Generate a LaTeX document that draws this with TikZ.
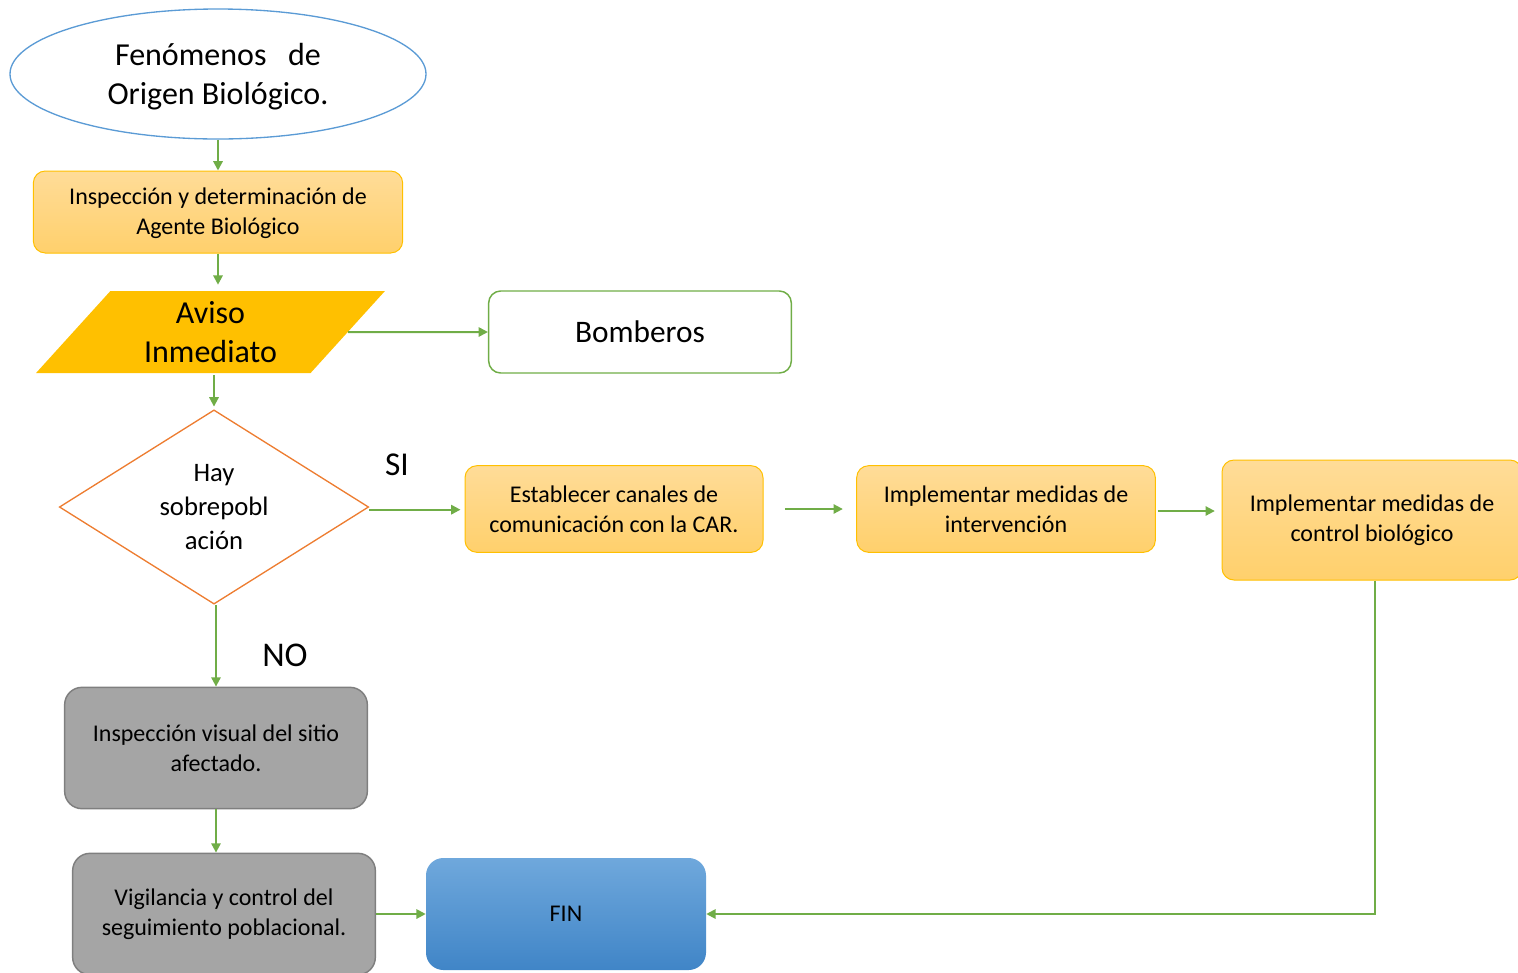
\documentclass[tikz,border=0pt]{standalone}
\usepackage{fontspec}
\setmainfont{Carlito}
\usetikzlibrary{shapes.geometric,arrows.meta}

\definecolor{verde}{HTML}{70AD47}
\definecolor{azul}{HTML}{5B9BD5}
\definecolor{naranja}{HTML}{FFC000}
\definecolor{naranjaA}{HTML}{FFDC98}
\definecolor{naranjaB}{HTML}{FFD06C}
\definecolor{gris}{HTML}{A5A5A5}
\definecolor{grisB}{HTML}{7F7F7F}
\definecolor{finA}{HTML}{6FA8DC}
\definecolor{finB}{HTML}{4085C7}
\definecolor{rombo}{HTML}{ED7D31}

\tikzset{
  caja/.style={rectangle, rounded corners=9pt, draw=naranja, line width=0.75pt,
    top color=naranjaA, bottom color=naranjaB, align=center, inner sep=0pt,
    font=\fontsize{18}{22.5}\selectfont},
  cajagris/.style={rectangle, rounded corners=13pt, draw=grisB, line width=1.1pt,
    fill=gris, align=center, inner sep=0pt, minimum width=227pt, minimum height=91pt,
    font=\fontsize{18}{22.5}\selectfont},
  flecha/.style={draw=verde, line width=1.5pt, -{Triangle[length=7pt,width=7pt]}},
  etiqueta/.style={font=\fontsize{25}{30}\selectfont, inner sep=0pt}
}

\begin{document}
\begin{tikzpicture}[x=0.75pt,y=-0.75pt]
\useasboundingbox (0,0) rectangle (1518,972);
%Inicio
\node[ellipse, draw=azul, line width=1pt, minimum width=312pt, minimum height=97.5pt,
  inner sep=0pt, align=center, text depth=0pt, font=\fontsize{24}{29}\selectfont]
  (ini) at (218,74) {Fenómenos~~~de\\Origen Biológico.};
\node[caja, minimum width=277pt, minimum height=61.5pt, text depth=2pt]
  (insp) at (218,212) {Inspección y determinación de\\Agente Biológico};
%Aviso
\node[trapezium, trapezium left angle=51, trapezium right angle=129, trapezium stretches=true,
  fill=naranja, minimum width=262pt, minimum height=61.5pt, inner sep=0pt, align=center,
  font=\fontsize{24}{29}\selectfont]
  (aviso) at (210.5,332) {Aviso\\Inmediato};
\node[rectangle, rounded corners=9pt, draw=verde, line width=1.1pt, minimum width=227pt,
  minimum height=61.5pt, font=\fontsize{23.5}{28}\selectfont]
  (bomb) at (640,332) {Bomberos};
%Decision
\node[diamond, draw=rombo, line width=1pt, minimum width=232pt, minimum height=145.5pt,
  inner sep=0pt, align=center, font=\fontsize{20}{25.5}\selectfont]
  (dec) at (214,507) {Hay\\sobrepobl\\ación};
\node[etiqueta] (si) at (397,465) {SI};
\node[etiqueta, font=\fontsize{26}{30}\selectfont] (no) at (285,655) {NO};
%Rama SI
\node[caja, minimum width=223.5pt, minimum height=65pt]
  (est) at (614,509) {Establecer canales de\\comunicación con la CAR.};
\node[caja, minimum width=224pt, minimum height=65pt]
  (int) at (1006,509) {Implementar medidas de\\intervención};
\node[caja, minimum width=225pt, minimum height=90pt]
  (ctrl) at (1372,520) {Implementar medidas de\\control biológico};
%Rama NO
\node[cajagris] (vis) at (216,748) {Inspección visual del sitio\\afectado.};
\node[cajagris] (vig) at (224,914) {Vigilancia y control del\\seguimiento poblacional.};
%Fin
\node[rectangle, rounded corners=13pt, top color=finA, bottom color=finB, minimum width=210pt,
  minimum height=84pt, font=\fontsize{18}{22}\selectfont]
  (fin) at (566,914) {FIN};
%Conectores
\draw[flecha] (ini) -- (insp);
\draw[flecha, shorten >=4.5pt] (insp.south) -- (insp.south |- aviso.north);
\draw[flecha] (aviso.east) -- (bomb.west);
\draw[flecha, shorten <=1.5pt, shorten >=2pt] (dec.north |- aviso.south) -- (dec.north);
\draw[flecha, shorten >=3pt] ([yshift=-2pt]dec.east) -- ([yshift=-2pt]dec.east -| est.west);
\draw[flecha, shorten <=16pt, shorten >=10pt] (est.east) -- (int.west);
\draw[flecha, shorten <=1.5pt, shorten >=5pt] ([yshift=-1.5pt]int.east) -- ([yshift=-1.5pt]int.east -| ctrl.west);
\draw[flecha] (ctrl.south -| 1375,0) |- (fin.east);
\draw[flecha] ([xshift=1.5pt]dec.south) -- ([xshift=1.5pt]dec.south |- vis.north);
\draw[flecha] (vis.south) -- (vis.south |- vig.north);
\draw[flecha] (vig.east) -- (fin.west);
\end{tikzpicture}
\end{document}
